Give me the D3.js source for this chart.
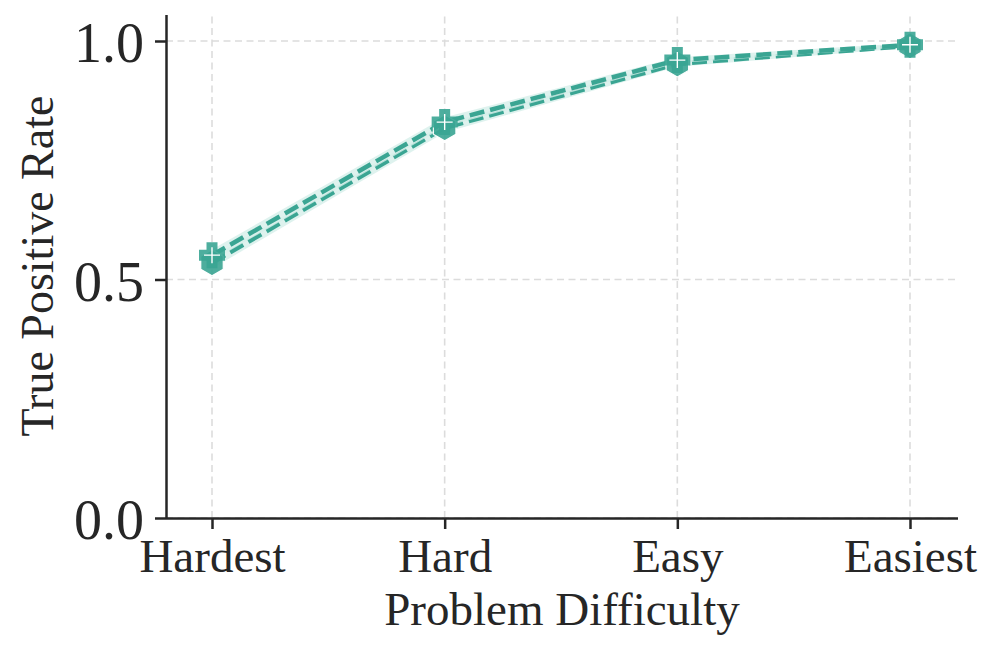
<!DOCTYPE html>
<html>
<head>
<meta charset="utf-8">
<script src="https://cdn.jsdelivr.net/npm/d3@7"></script>
<style>
body { margin: 0; background: #fff; }
text { font-family: "Times New Roman", "Liberation Serif", Times, serif; fill: #262626; }
</style>
</head>
<body>
<script>
const categories = ["Hardest", "Hard", "Easy", "Easiest"];
const seriesPlus = [0.551, 0.830, 0.960, 0.992];
const seriesHex = [0.535, 0.818, 0.952, 0.990];
const bandPlus = [0.012, 0.010, 0.006, 0.004];
const bandHex = [0.012, 0.010, 0.006, 0.004];
const yTicks = [0.0, 0.5, 1.0];

const width = 996, height = 654;
const margin = {left: 166, right: 38, top: 15, bottom: 136};
const color = "#3aa593";
const bandColor = "#d6efea";

const svg = d3.select("body").append("svg")
	.attr("width", width)
	.attr("height", height);

const x = d3.scalePoint()
	.domain(categories)
	.range([212, 910]);

const y = d3.scaleLinear()
	.domain([0, 1.0])
	.range([518, 41]);

// grid
const grid = svg.append("g").attr("stroke", "#dcdcdc").attr("stroke-width", 1.6).attr("stroke-dasharray", "7,4.5");
grid.selectAll("line.v").data(categories).enter().append("line")
	.attr("x1", d => x(d)).attr("x2", d => x(d))
	.attr("y1", 518).attr("y2", margin.top);
grid.selectAll("line.h").data(yTicks).enter().append("line")
	.attr("x1", margin.left).attr("x2", width - margin.right)
	.attr("y1", d => y(d)).attr("y2", d => y(d));

// band + dashed line for one series
function drawSeries(vals, band) {
	const area = d3.area()
		.x((d, i) => x(categories[i]))
		.y0((d, i) => y(d - band[i]))
		.y1((d, i) => y(d + band[i]));
	svg.append("path").datum(vals)
		.attr("d", area)
		.attr("fill", bandColor)
		.attr("opacity", 0.8);
	const line = d3.line()
		.x((d, i) => x(categories[i]))
		.y(d => y(d));
	svg.append("path").datum(vals)
		.attr("d", line)
		.attr("fill", "none")
		.attr("stroke", color)
		.attr("stroke-width", 4.5)
		.attr("stroke-dasharray", "15,6");
}

drawSeries(seriesHex, bandHex);
drawSeries(seriesPlus, bandPlus);

// hexagon markers
const hexR = 13;
const hexPath = "M" + d3.range(6).map(k => {
	const a = k * Math.PI / 3 + Math.PI / 2;
	return [hexR * Math.cos(a), hexR * Math.sin(a)].join(",");
}).join("L") + "Z";

svg.append("g").selectAll("path").data(seriesHex).enter().append("path")
	.attr("transform", (d, i) => "translate(" + x(categories[i]) + "," + y(d) + ")")
	.attr("d", hexPath)
	.attr("fill", color)
	.attr("stroke", "#fff")
	.attr("stroke-width", 1.2)
	.attr("opacity", 0.9);

// plus markers (filled P)
const s = 13, t = 5.5;
const plusPath = `M${-t},${-s}L${t},${-s}L${t},${-t}L${s},${-t}L${s},${t}L${t},${t}L${t},${s}L${-t},${s}L${-t},${t}L${-s},${t}L${-s},${-t}L${-t},${-t}Z`;
const pg = svg.append("g").selectAll("g").data(seriesPlus).enter().append("g")
	.attr("transform", (d, i) => "translate(" + x(categories[i]) + "," + y(d) + ")");
pg.append("path")
	.attr("d", plusPath)
	.attr("fill", color)
	.attr("opacity", 0.9);
pg.append("path")
	.attr("d", "M-8,0L8,0M0,-8L0,8")
	.attr("stroke", "#fff")
	.attr("stroke-width", 1.4);

// axes
const xAxis = svg.append("g")
	.attr("transform", "translate(0,518)")
	.call(d3.axisBottom(x).tickSize(11).tickPadding(6));
xAxis.select(".domain").attr("d", `M${margin.left},0.5H${width - margin.right}`);
const yAxis = svg.append("g")
	.attr("transform", "translate(" + margin.left + ",0)")
	.call(d3.axisLeft(y).tickValues(yTicks).tickFormat(d3.format(".1f")).tickSize(11).tickPadding(11));
yAxis.select(".domain").attr("d", `M0.5,${margin.top}V518`);

svg.selectAll(".domain, .tick line").attr("stroke", "#262626").attr("stroke-width", 2.5);
xAxis.selectAll(".tick text").attr("font-size", 47).attr("fill", "#262626").attr("dy", "0.78em");
yAxis.selectAll(".tick text").attr("font-size", 56).attr("fill", "#262626").attr("dy", "0.37em");

// labels
svg.append("text")
	.attr("x", 562)
	.attr("y", 625)
	.attr("text-anchor", "middle")
	.attr("font-size", 47)
	.text("Problem Difficulty");

svg.append("text")
	.attr("transform", "translate(53,266) rotate(-90)")
	.attr("text-anchor", "middle")
	.attr("font-size", 46)
	.text("True Positive Rate");
</script>
</body>
</html>
